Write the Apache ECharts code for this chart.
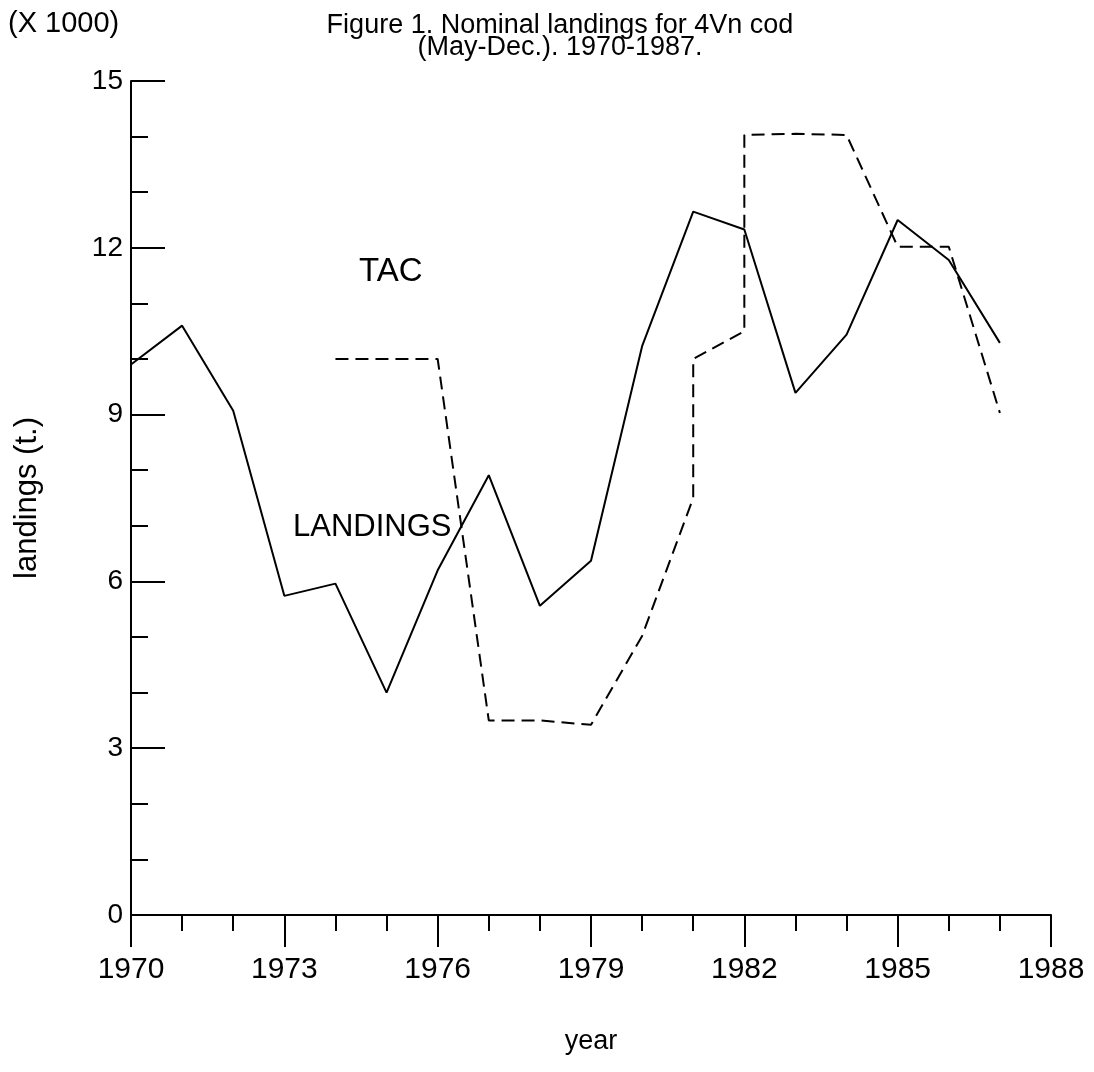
<!DOCTYPE html>
<html>
<head>
<meta charset="utf-8">
<script src="https://cdn.jsdelivr.net/npm/echarts@6/dist/echarts.min.js"></script>
<style>
    html, body { margin: 0; padding: 0; background: #fff; }
    #landChart { width: 1094px; height: 1072px; }
</style>
</head>
<body>
<div id="landChart"></div>
<script>
var landYears = [1970, 1971, 1972, 1973, 1974, 1975, 1976, 1977, 1978, 1979, 1980, 1981, 1982, 1983, 1984, 1985, 1986, 1987];
var landValues = [9.9, 10.6, 9.07, 5.74, 5.96, 4.0, 6.2, 7.91, 5.56, 6.37, 10.23, 12.65, 12.33, 9.39, 10.44, 12.5, 11.78, 10.29];

// TAC steps: repeated years give the vertical jumps
var tacYears = [1974, 1975, 1976, 1977, 1978, 1979, 1980, 1981, 1981, 1982, 1982, 1983, 1984, 1985, 1986, 1987];
var tacValues = [10.0, 10.0, 10.0, 3.5, 3.5, 3.42, 5.02, 7.5, 10.0, 10.5, 14.03, 14.05, 14.03, 12.02, 12.02, 9.03];

var fontName = 'Liberation Sans, Arial, sans-serif';

var pairs = function (xs, ys) {
    var out = [];
    for (var i = 0; i < xs.length; i++) {
        out.push([xs[i], ys[i]]);
    }
    return out;
};

var landChart = function () {
    var chart = echarts.init(document.getElementById('landChart'));
    var option = {
        backgroundColor: '#fff',
        animation: false,
        title: {
            text: 'Figure 1. Nominal landings for 4Vn cod\n(May-Dec.). 1970-1987.',
            left: 555,
            top: 10,
            textAlign: 'center',
            textStyle: {
                color: '#000',
                fontFamily: fontName,
                fontSize: 27,
                fontWeight: 'normal',
                lineHeight: 22
            }
        },
        graphic: [
            {
                type: 'text',
                left: 8,
                top: 9,
                style: { text: '(X 1000)', fill: '#000', font: '29px ' + fontName }
            },
            {
                type: 'text',
                left: 359,
                top: 255,
                style: { text: 'TAC', fill: '#000', font: '33px ' + fontName }
            },
            {
                type: 'text',
                left: 293,
                top: 512,
                style: { text: 'LANDINGS', fill: '#000', font: '31px ' + fontName }
            }
        ],
        grid: {
            left: 131,
            right: 43,
            top: 81,
            bottom: 157,
            containLabel: false
        },
        xAxis: {
            type: 'value',
            min: 1970,
            max: 1988,
            interval: 3,
            name: 'year',
            nameLocation: 'middle',
            nameGap: 113,
            nameTextStyle: { color: '#000', fontFamily: fontName, fontSize: 27 },
            axisLine: { show: true, lineStyle: { color: '#000', width: 2 } },
            axisTick: { show: true, length: 32, lineStyle: { color: '#000', width: 2 } },
            minorTick: { show: true, splitNumber: 3, length: 16, lineStyle: { color: '#000', width: 2 } },
            splitLine: { show: false },
            axisLabel: {
                color: '#000',
                fontFamily: fontName,
                fontSize: 30,
                margin: 40,
                formatter: function (v) { return String(v); }
            }
        },
        yAxis: {
            type: 'value',
            min: 0,
            max: 15,
            interval: 3,
            name: 'landings (t.)',
            nameLocation: 'middle',
            nameRotate: 90,
            nameGap: 88,
            nameTextStyle: { color: '#000', fontFamily: fontName, fontSize: 31 },
            axisLine: { show: true, lineStyle: { color: '#000', width: 2 } },
            axisTick: { show: true, inside: true, length: 34, lineStyle: { color: '#000', width: 2 } },
            minorTick: { show: true, splitNumber: 3, length: 17, lineStyle: { color: '#000', width: 2 } },
            splitLine: { show: false },
            axisLabel: {
                color: '#000',
                fontFamily: fontName,
                fontSize: 28,
                margin: 8
            }
        },
        series: [
            {
                name: 'LANDINGS',
                type: 'line',
                symbol: 'none',
                lineStyle: { color: '#000', width: 2 },
                data: pairs(landYears, landValues)
            },
            {
                name: 'TAC',
                type: 'line',
                symbol: 'none',
                lineStyle: { color: '#000', width: 2, type: [13, 7] },
                data: pairs(tacYears, tacValues)
            }
        ]
    };
    chart.setOption(option);
};

landChart();
</script>
</body>
</html>
